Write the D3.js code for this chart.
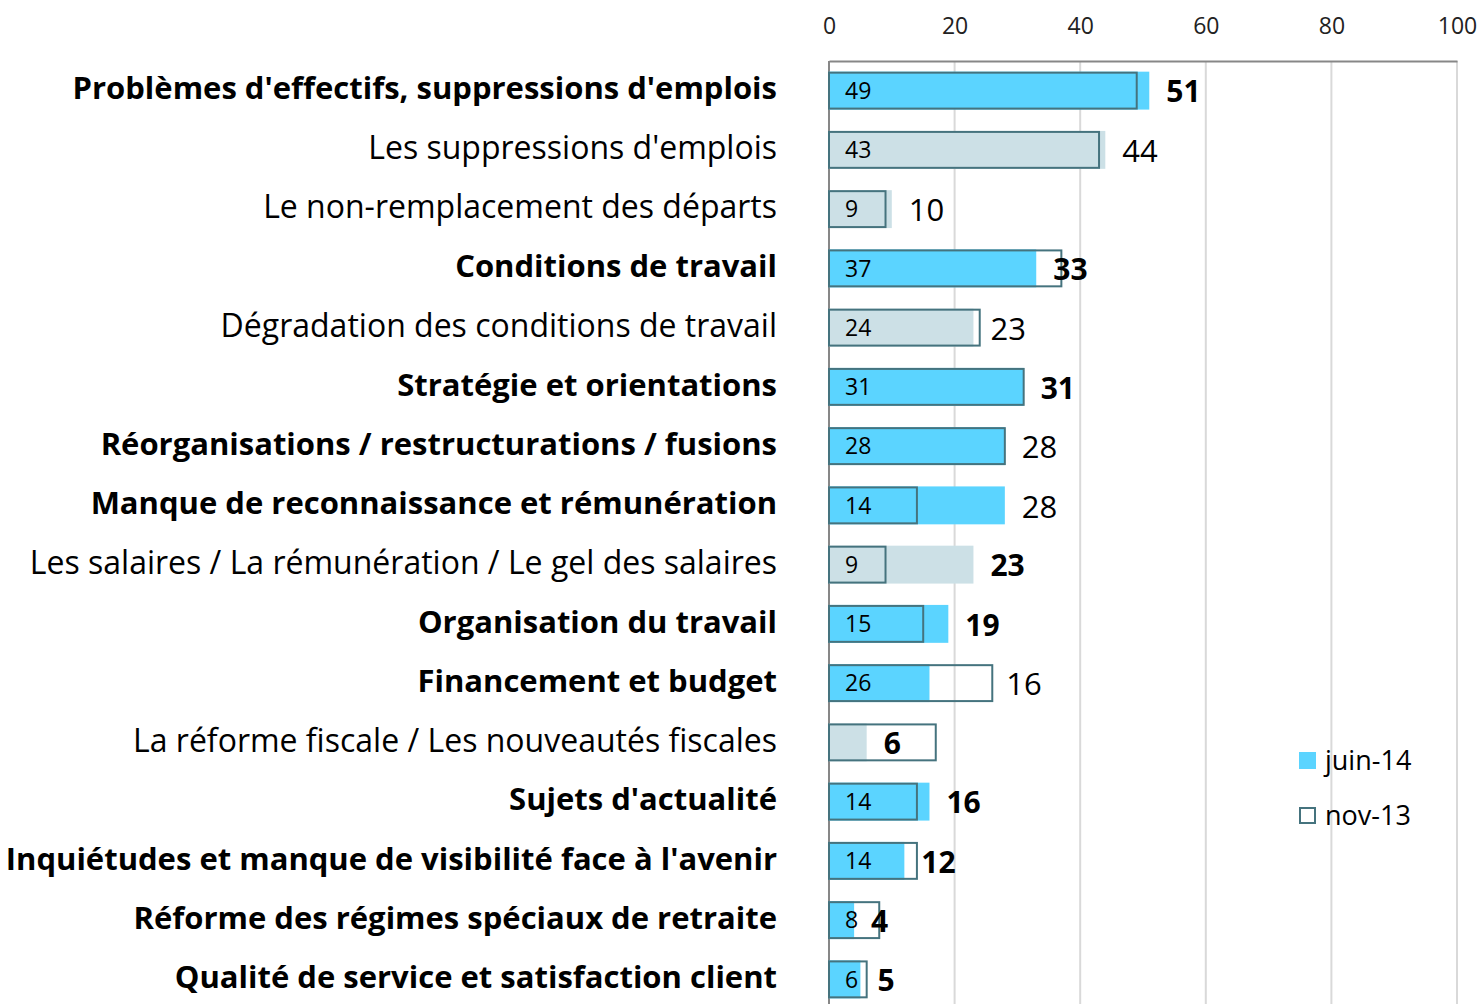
<!DOCTYPE html>
<html>
<head>
<meta charset="utf-8">
<title>Préoccupations - juin-14 vs nov-13</title>
<script src="https://cdn.jsdelivr.net/npm/d3@7"></script>
<style>
  body { margin: 0; background: #fff; font-family: 'Open Sans', sans-serif; }
  svg { display: block; }
  .cat { font-size: 32px; fill: #000; }
  .cat.bold { font-weight: 700; font-size: 31px; }
  .val { font-size: 31px; fill: #000; }
  .val.bold { font-weight: 700; font-size: 30px; }
  .inner { font-size: 23px; fill: #000; }
  .tick text { font-size: 23px; fill: #222; font-family: 'Open Sans', sans-serif; }
  .legend text { font-size: 27px; fill: #000; }
</style>
</head>
<body>
<svg width="1483" height="1004"></svg>
<script>
// categories, top to bottom
const categories = [
  "Problèmes d'effectifs, suppressions d'emplois",
  "Les suppressions d'emplois",
  "Le non-remplacement des départs",
  "Conditions de travail",
  "Dégradation des conditions de travail",
  "Stratégie et orientations",
  "Réorganisations / restructurations / fusions",
  "Manque de reconnaissance et rémunération",
  "Les salaires / La rémunération / Le gel des salaires",
  "Organisation du travail",
  "Financement et budget",
  "La réforme fiscale / Les nouveautés fiscales",
  "Sujets d'actualité",
  "Inquiétudes et manque de visibilité face à l'avenir",
  "Réforme des régimes spéciaux de retraite",
  "Qualité de service et satisfaction client"
];
// true = main theme (bold, cyan), false = sub item (regular, grey-blue)
const isMain = [true, false, false, true, false, true, true, true, false, true, true, false, true, true, true, true];
const juin14 = [51, 44, 10, 33, 23, 31, 28, 28, 23, 19, 16, 6, 16, 12, 4, 5];
const nov13  = [49, 43, 9, 37, 24, 31, 28, 14, 9, 15, 26, 17, 14, 14, 8, 6];
// labels shown in bold for the juin-14 value
const valueBold = [true, false, false, true, false, true, false, false, true, true, false, true, true, true, true, true];
// nov-13 label hidden for this row in the original
const showNovLabel = [true, true, true, true, true, true, true, true, true, true, true, false, true, true, true, true];
const xTicks = [0, 20, 40, 60, 80, 100];

const rows = categories.map((c, i) => ({
  cat: c, main: isMain[i], juin: juin14[i], nov: nov13[i],
  vb: valueBold[i], showNov: showNovLabel[i]
}));

const svg = d3.select('svg');
const plotLeft = 829, plotRight = 1457, plotTop = 61, plotBottom = 1009;

const x = d3.scaleLinear().domain([0, 100]).range([plotLeft, plotRight]);
const y = d3.scaleBand().domain(categories).range([plotTop, plotBottom]).paddingInner(0.36).paddingOuter(0.18);

// gridlines
svg.append('g')
  .selectAll('line')
  .data(xTicks.slice(1))
  .join('line')
  .attr('x1', d => x(d)).attr('x2', d => x(d))
  .attr('y1', plotTop).attr('y2', 1004)
  .attr('stroke', '#d9d9d9').attr('stroke-width', 2);

// top axis with tick labels
const axis = svg.append('g')
  .attr('transform', `translate(0, ${plotTop})`)
  .call(d3.axisTop(x).tickValues(xTicks).tickSize(0).tickPadding(27));
axis.select('.domain').attr('stroke', '#878787').attr('stroke-width', 2);

// left axis line
svg.append('line')
  .attr('x1', plotLeft).attr('x2', plotLeft).attr('y1', plotTop).attr('y2', 1004)
  .attr('stroke', '#878787').attr('stroke-width', 2);

// juin-14 filled bars
svg.append('g')
  .selectAll('rect')
  .data(rows)
  .join('rect')
  .attr('x', x(0))
  .attr('y', d => y(d.cat))
  .attr('width', d => x(d.juin) - x(0))
  .attr('height', y.bandwidth())
  .attr('fill', d => d.main ? '#5bd4ff' : '#cce0e6');

// nov-13 outline bars
svg.append('g')
  .selectAll('rect')
  .data(rows)
  .join('rect')
  .attr('x', x(0))
  .attr('y', d => y(d.cat) + 1)
  .attr('width', d => x(d.nov) - x(0))
  .attr('height', y.bandwidth() - 2)
  .attr('fill', 'none')
  .attr('stroke', '#45737e')
  .attr('stroke-width', 2);

// nov-13 labels inside
svg.append('g')
  .selectAll('text')
  .data(rows.filter(d => d.showNov))
  .join('text')
  .attr('class', 'inner')
  .attr('x', x(0) + 16)
  .attr('y', d => y(d.cat) + y.bandwidth() / 2)
  .attr('dy', '0.36em')
  .text(d => d.nov);

// juin-14 labels: after the filled bar, or after the outline when it is much longer
svg.append('g')
  .selectAll('text')
  .data(rows)
  .join('text')
  .attr('class', d => 'val' + (d.vb ? ' bold' : ''))
  .attr('x', d => (d.showNov && d.nov - d.juin > 5) ? x(d.nov) + 14 : x(d.juin) + 17)
  .attr('y', d => y(d.cat) + y.bandwidth() / 2 + 1)
  .attr('dy', '0.36em')
  .text(d => d.juin);

// category labels
svg.append('g')
  .selectAll('text')
  .data(rows)
  .join('text')
  .attr('class', d => 'cat' + (d.main ? ' bold' : ''))
  .attr('x', 777)
  .attr('y', d => y(d.cat) + y.bandwidth() / 2 - 2)
  .attr('dy', '0.35em')
  .attr('text-anchor', 'end')
  .text(d => d.cat);

// legend
const legend = svg.append('g').attr('class', 'legend');
legend.append('rect').attr('x', 1299).attr('y', 752).attr('width', 17).attr('height', 17).attr('fill', '#5bd4ff');
legend.append('text').attr('x', 1325).attr('y', 761).attr('dy', '0.35em').text('juin-14');
legend.append('rect').attr('x', 1300).attr('y', 808).attr('width', 15).attr('height', 15)
  .attr('fill', '#fff').attr('stroke', '#45737e').attr('stroke-width', 2);
legend.append('text').attr('x', 1325).attr('y', 816).attr('dy', '0.35em').text('nov-13');
</script>
</body>
</html>
